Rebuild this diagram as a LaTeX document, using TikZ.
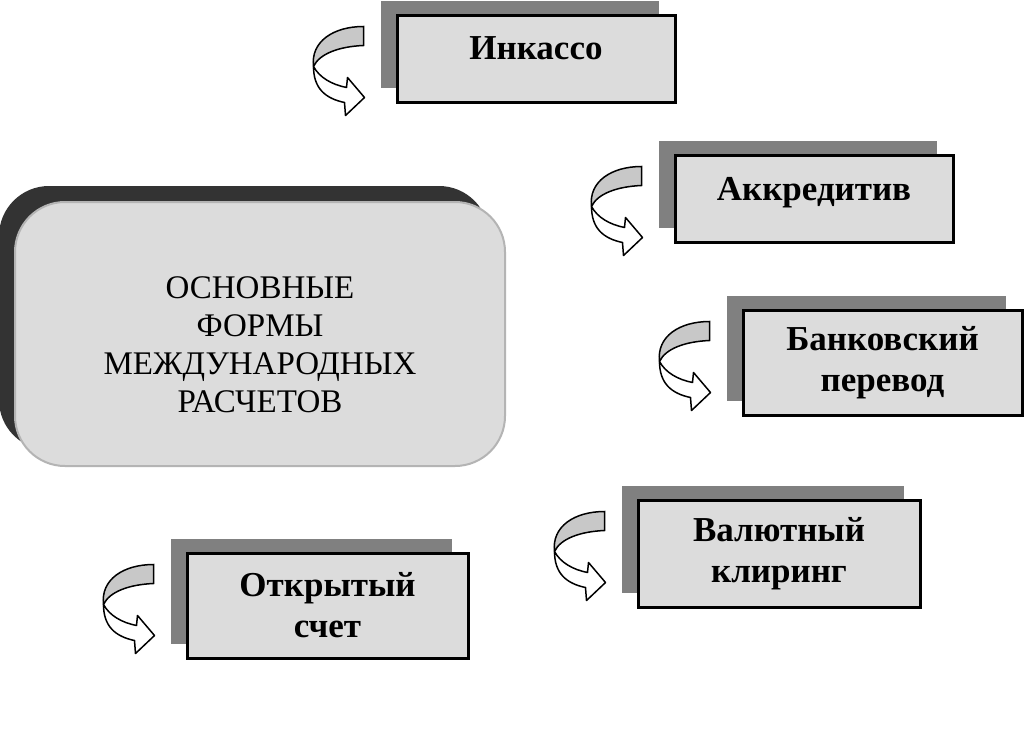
\documentclass[tikz,border=0pt]{standalone}
\usepackage{fontspec}
\setmainfont{Liberation Serif}
\usetikzlibrary{calc,shadows}
\definecolor{boxgray}{HTML}{DCDCDC}
\definecolor{backgray}{HTML}{808080}
\definecolor{darkback}{HTML}{333333}
\definecolor{rimgray}{HTML}{B4B4B4}
\definecolor{bandgray}{HTML}{C8C8C8}
\tikzset{
  formbox/.style={draw=black, line width=3pt, fill=boxgray, align=center,
    font=\bfseries\fontsize{35}{41}\selectfont,
    drop shadow={shadow xshift=-16pt, shadow yshift=14pt, fill=backgray, opacity=1}},
  oneline/.style={text depth=20pt},
  mainbox/.style={draw=rimgray, line width=2pt, fill=boxgray, rounded corners=50pt,
    minimum width=490pt, minimum height=264pt,
    drop shadow={shadow xshift=-16pt, shadow yshift=16pt, fill=darkback, opacity=1}},
  uturn/.pic={
    % back side of the band
    \draw[line width=1.5pt, fill=bandgray] (0,0) -- (0,19)
      .. controls (-24,20) and (-44,27) .. (-50,40)
      .. controls (-53,15) and (-30,0) .. (0,0) -- cycle;
    % front side with the head
    \draw[line width=1.5pt, fill=white, line join=round] (-50,40)
      .. controls (-50,62) and (-38,72) .. (-19,76) -- (-18,89) -- (1,71)
      -- (-16,51) -- (-17,61)
      .. controls (-32,58) and (-44,51) .. (-50,40) -- cycle;
  }
}
\begin{document}
\begin{tikzpicture}[x=1pt, y=-1pt]
  \useasboundingbox[fill=white] (0,0) rectangle (1024,747);
  % Main block
  \node[mainbox] (main) at (260,334) {};
  \node[align=center, font=\fontsize{33}{38}\selectfont] (maintext) at (260,345)
    {ОСНОВНЫЕ\\ФОРМЫ\\МЕЖДУНАРОДНЫХ\\РАСЧЕТОВ};
  % Forms
  \node[formbox, oneline, minimum width=278pt, minimum height=87pt] (inkasso) at (536,58.5) {Инкассо};
  \node[formbox, oneline, minimum width=278pt, minimum height=87pt] (akkred) at (814,198.5) {Аккредитив};
  \node[formbox, minimum width=279pt, minimum height=105pt] (bank) at (882.5,362.5) {Банковский\\перевод};
  \node[formbox, minimum width=282pt, minimum height=107pt] (kliring) at (779,553.5) {Валютный\\клиринг};
  \node[formbox, minimum width=281pt, minimum height=105pt] (schet) at (327.5,605.5) {Открытый\\счет};
  % Turn arrows
  \foreach \b in {inkasso,akkred,bank,kliring,schet}
    \pic at ($(\b.north west)+(-32,13)$) {uturn};
\end{tikzpicture}
\end{document}
